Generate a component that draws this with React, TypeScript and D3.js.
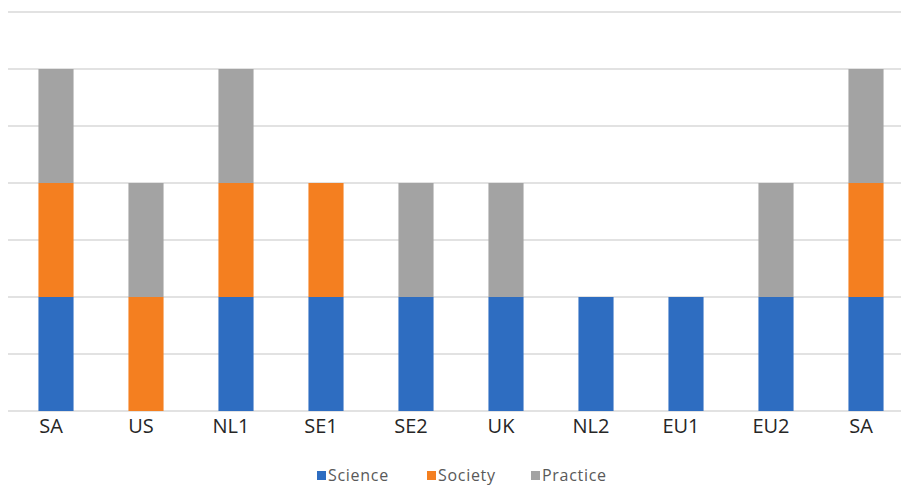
import React from "react";
import * as d3 from "d3";

// categories along the x axis (SA appears twice in the source chart)
const categories = ["SA", "US", "NL1", "SE1", "SE2", "UK", "NL2", "EU1", "EU2", "SA"];

// series values, one per category
const science = [1, 0, 1, 1, 1, 1, 1, 1, 1, 1];
const society = [1, 1, 1, 1, 0, 0, 0, 0, 0, 1];
const practice = [1, 1, 1, 0, 1, 1, 0, 0, 1, 1];

const seriesNames = ["Science", "Society", "Practice"];
const seriesColors = ["#2e6dc1", "#f47f20", "#a3a3a3"];

// gridline values
const gridTicks = [0, 0.5, 1, 1.5, 2, 2.5, 3, 3.5];

const W = 901;
const H = 486;

function App() {
  const rows = categories.map((c, i) => ({
    key: String(i),
    label: c,
    Science: science[i],
    Society: society[i],
    Practice: practice[i],
  }));

  const stacked = d3.stack<any>().keys(seriesNames)(rows);

  const x = d3
    .scaleBand()
    .domain(rows.map((r) => r.key))
    .range([11, 911])
    .paddingInner(0.61)
    .paddingOuter(0.305);

  const y = d3.scaleLinear().domain([0, 3.5]).range([411, 12]);

  // legend layout
  const legendX = [317, 427, 531];

  return (
    <svg width={W} height={H} style={{ position: "absolute", left: 0, top: 0, background: "#fff" }}>
      {/* gridlines */}
      {gridTicks.map((t) => (
        <line key={t} x1={8} x2={W} y1={y(t)} y2={y(t)} stroke="#d9d9d9" strokeWidth={1.5} />
      ))}

      {/* stacked bars */}
      {stacked.map((s, si) => (
        <g key={s.key} fill={seriesColors[si]}>
          {s.map((d: any, i: number) =>
            d[1] - d[0] > 0 ? (
              <rect
                key={i}
                x={x(rows[i].key)}
                width={x.bandwidth()}
                y={y(d[1])}
                height={y(d[0]) - y(d[1])}
              />
            ) : null
          )}
        </g>
      ))}

      {/* category labels */}
      {rows.map((r) => (
        <text
          key={r.key}
          x={(x(r.key) as number) + x.bandwidth() / 2 - 5}
          y={433}
          textAnchor="middle"
          fontFamily="'Open Sans', sans-serif"
          fontSize={20}
          fill="#262626"
        >
          {r.label}
        </text>
      ))}

      {/* legend */}
      {seriesNames.map((n, i) => (
        <g key={n} transform={`translate(${legendX[i]},471)`}>
          <rect width={9} height={9} fill={seriesColors[i]} />
          <text
            x={11}
            y={10}
            fontFamily="'Open Sans', sans-serif"
            fontSize={16}
            letterSpacing={0.7}
            fill="#595959"
          >
            {n}
          </text>
        </g>
      ))}
    </svg>
  );
}

export default App;
